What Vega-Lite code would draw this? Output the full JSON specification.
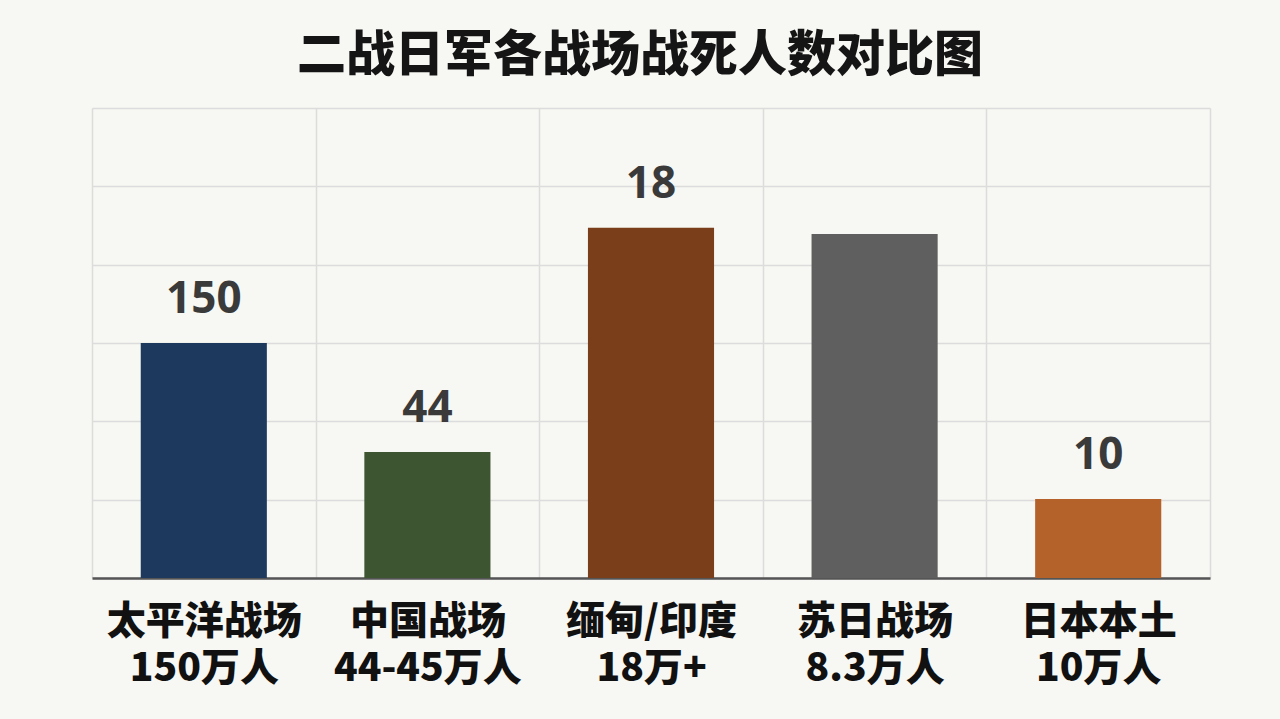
{
  "$schema": "https://vega.github.io/schema/vega-lite/v6.json",
  "width": 1118,
  "height": 470,
  "autosize": {"type": "none"},
  "padding": {"left": 92, "top": 108, "right": 70, "bottom": 141},
  "background": "#f7f7f3",
  "title": {
    "text": "二战日军各战场战死人数对比图",
    "font": "Noto Sans CJK SC",
    "fontSize": 49,
    "fontWeight": 900,
    "color": "#151515",
    "anchor": "middle",
    "offset": 27,
    "dx": -11
  },
  "config": {"view": {"stroke": null}},
  "data": {
    "values": [
      {"theater": "太平洋战场|150万人", "height": 3.0, "label": "150"},
      {"theater": "中国战场|44-45万人", "height": 1.61, "label": "44"},
      {"theater": "缅甸/印度|18万+", "height": 4.47, "label": "18"},
      {"theater": "苏日战场|8.3万人", "height": 4.39, "label": ""},
      {"theater": "日本本土|10万人", "height": 1.01, "label": "10"}
    ]
  },
  "encoding": {
    "x": {
      "field": "theater",
      "type": "nominal",
      "sort": null,
      "scale": {"paddingInner": 0, "paddingOuter": 0},
      "axis": {
        "title": null,
        "labelExpr": "split(datum.label, '|')",
        "labelAngle": 0,
        "labelFont": "Noto Sans CJK SC",
        "labelFontSize": 39,
        "labelFontWeight": 900,
        "labelColor": "#111111",
        "labelLineHeight": 47,
        "labelPadding": 24,
        "labelBaseline": "top",
        "labelLimit": 0,
        "ticks": false,
        "tickBand": "extent",
        "grid": true,
        "gridColor": "#dcdcdc",
        "gridWidth": 1.5,
        "domainColor": "#555555",
        "domainWidth": 2.5
      }
    },
    "y": {
      "field": "height",
      "type": "quantitative",
      "scale": {"domain": [0, 6], "nice": false},
      "axis": {
        "title": null,
        "labels": false,
        "ticks": false,
        "domain": false,
        "values": [0, 1, 2, 3, 4, 5, 6],
        "grid": true,
        "gridColor": "#dcdcdc",
        "gridWidth": 1.5
      }
    }
  },
  "layer": [
    {
      "mark": {"type": "bar", "width": {"band": 0.564}},
      "encoding": {
        "color": {
          "field": "theater",
          "type": "nominal",
          "sort": null,
          "legend": null,
          "scale": {"range": ["#1d3a5e", "#3d5530", "#7a3e1a", "#5f5f5f", "#b4622a"]}
        }
      }
    },
    {
      "mark": {
        "type": "text",
        "font": "Open Sans",
        "fontSize": 44,
        "fontWeight": "bold",
        "color": "#3a3a3a",
        "baseline": "alphabetic",
        "dy": -30
      },
      "encoding": {
        "text": {"field": "label"}
      }
    }
  ]
}
